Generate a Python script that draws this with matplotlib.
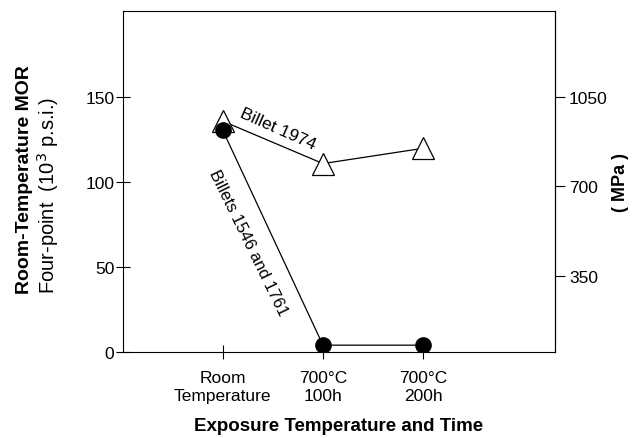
import matplotlib.pyplot as plt
import numpy as np

plt.rcParams["font.family"] = ["Liberation Sans", "DejaVu Sans"]

# %% Data
conditions = ["Room\nTemperature", "700°C\n100h", "700°C\n200h"]
x_pos = [1, 2, 3]
billet_1974 = [136, 111, 120]
billets_1546_1761 = [130.5, 4, 4]
mpa_ticks = [350, 700, 1050]


# right-hand scale as drawn in the original figure
def ksi_to_mpa(v):
    return (np.asarray(v) + 7.5) / 0.15


def mpa_to_ksi(v):
    return np.asarray(v) * 0.15 - 7.5


fig = plt.figure(figsize=(6.36, 4.39), dpi=100)
ax = fig.add_axes([0.193, 0.196, 0.680, 0.777])

ax.plot(x_pos, billet_1974, "-", color="black", linewidth=0.9,
        marker="^", markersize=16, markerfacecolor="white",
        markeredgecolor="black", markeredgewidth=0.9, zorder=3)
ax.plot(x_pos, billets_1546_1761, "-", color="black", linewidth=0.9,
        marker="o", markersize=11, markerfacecolor="black",
        markeredgecolor="black", zorder=4)

ax.text(1.55, 132, "Billet 1974", rotation=-24, ha="center", va="center", fontsize=12.5)
ax.text(1.25, 65, "Billets 1546 and 1761", rotation=-64, ha="center", va="center", fontsize=12)

ax.set_xlim(0, 4.32)
ax.set_ylim(0, 201)
ax.set_xticks(x_pos)
ax.set_xticklabels(conditions, fontsize=12.5, linespacing=1.25)
ax.set_yticks([0, 50, 100, 150])
ax.tick_params(axis="y", direction="inout", length=10, width=0.8, labelsize=12.5, pad=1)
ax.tick_params(axis="x", direction="inout", length=10, width=0.8, pad=8)

ax.set_xlabel("Exposure Temperature and Time", fontsize=13.5, fontweight="bold", labelpad=10)
fig.text(0.039, 0.59, "Room-Temperature MOR", rotation=90, ha="center", va="center",
         fontsize=14, fontweight="bold")
fig.text(0.075, 0.555, "Four-point  (10$^3$ p.s.i.)", rotation=90, ha="center", va="center",
         fontsize=14.5)

for s in ax.spines.values():
    s.set_linewidth(0.8)

sec = ax.secondary_yaxis("right", functions=(ksi_to_mpa, mpa_to_ksi))
sec.set_yticks(mpa_ticks)
sec.tick_params(direction="out", length=7, width=0.8, labelsize=12.5, pad=3)
sec.set_ylabel("( MPa )", fontsize=13, fontweight="bold", labelpad=3)

fig.savefig("out.png", dpi=100)
